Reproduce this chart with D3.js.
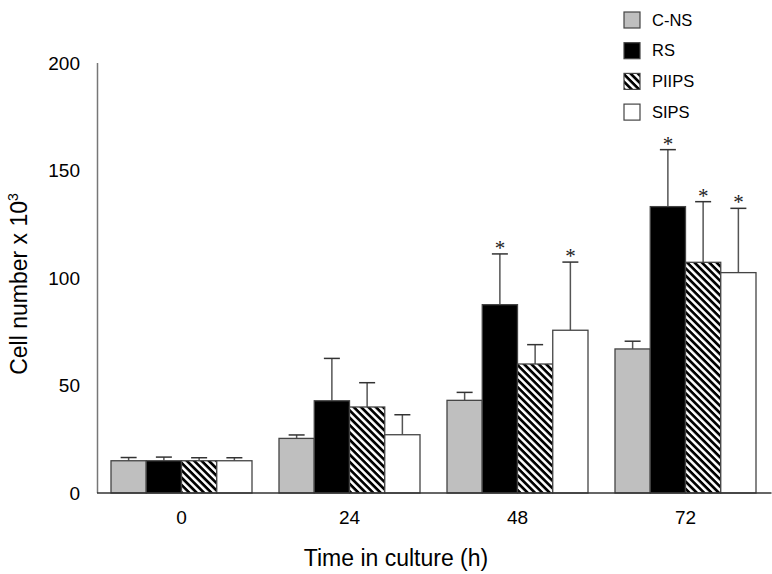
<!DOCTYPE html>
<html><head><meta charset="utf-8">
<script src="https://cdn.jsdelivr.net/npm/d3@7"></script>
<style>body{margin:0;background:#fff;} svg{display:block;font-family:"Liberation Sans",Arial,sans-serif;}</style>
</head><body>
<svg id="chart" width="772" height="574"></svg>
<script>
const timepoints = ["0", "24", "48", "72"];
const seriesNames = ["C-NS", "RS", "PIIPS", "SIPS"];
const cnsValues   = [15, 25.4, 43.1, 67];
const rsValues    = [15, 42.9, 87.6, 133.2];
const piipsValues = [15, 40, 60, 107.3];
const sipsValues  = [15, 27.1, 75.7, 102.5];
const cnsErr   = [1.5, 1.6, 3.7, 3.6];
const rsErr    = [1.7, 19.7, 23.6, 26.5];
const piipsErr = [1.4, 11.3, 9.0, 28.2];
const sipsErr  = [1.4, 9.3, 31.7, 29.9];
const significant = [[false,false,false,false],[false,false,true,true],[false,false,false,true],[false,false,true,true]];
const yTicks = [0, 50, 100, 150, 200];

const values = [cnsValues, rsValues, piipsValues, sipsValues];
const errors = [cnsErr, rsErr, piipsErr, sipsErr];

const svg = d3.select("#chart");
const defs = svg.append("defs");
const pat = defs.append("pattern").attr("id","hatch").attr("patternUnits","userSpaceOnUse")
  .attr("width",5.2).attr("height",5.2).attr("patternTransform","rotate(45)");
pat.append("rect").attr("width",5.2).attr("height",5.2).attr("fill","#fff");
pat.append("rect").attr("x",0).attr("y",0).attr("width",5.2).attr("height",2.7).attr("fill","#000");

const fills = ["#bfbfbf", "#000000", "url(#hatch)", "#ffffff"];

const x0 = d3.scaleBand().domain(timepoints).range([97.5, 769.5]).paddingInner(27/168).paddingOuter(27/336);
const x1 = d3.scaleBand().domain(seriesNames).range([0, x0.bandwidth()]).padding(0);
const y = d3.scaleLinear().domain([0, 200]).range([493, 63]);

const data = [];
timepoints.forEach((t, i) => seriesNames.forEach((s, j) => data.push({t, s, j, v: values[j][i], e: errors[j][i], sig: significant[j][i]})));

const g = svg.append("g");
g.selectAll(".err").data(data).join("g").each(function(d){
  const cx = x0(d.t) + x1(d.s) + x1.bandwidth()/2;
  const sel = d3.select(this);
  sel.append("line").attr("x1",cx).attr("x2",cx).attr("y1",y(d.v)).attr("y2",y(d.v+d.e)).attr("stroke","#555").attr("stroke-width",1.5);
  sel.append("line").attr("x1",cx-8).attr("x2",cx+8).attr("y1",y(d.v+d.e)).attr("y2",y(d.v+d.e)).attr("stroke","#333").attr("stroke-width",1.5);
  if (d.sig) sel.append("text").attr("x",cx).attr("y",y(d.v+d.e)+1).attr("text-anchor","middle")
    .attr("font-size",21).attr("fill","#222").attr("font-family","'Liberation Serif',serif").text("*");
});
g.selectAll(".bar").data(data).join("rect")
  .attr("x", d => x0(d.t) + x1(d.s))
  .attr("y", d => y(d.v))
  .attr("width", x1.bandwidth())
  .attr("height", d => y(0) - y(d.v))
  .attr("fill", d => fills[d.j])
  .attr("stroke", "#444").attr("stroke-width", 1.3);

svg.append("line").attr("x1",97.5).attr("x2",97.5).attr("y1",y(200)).attr("y2",y(0)).attr("stroke","#777").attr("stroke-width",1.5);
svg.append("line").attr("x1",97).attr("x2",771.5).attr("y1",y(0)).attr("y2",y(0)).attr("stroke","#333").attr("stroke-width",1.5);

svg.selectAll(".ytl").data(yTicks).join("text")
  .attr("x", 80).attr("y", d => y(d)).attr("dy","0.35em").attr("text-anchor","end")
  .attr("font-size",19).attr("fill","#000").text(d => d);

svg.selectAll(".xtl").data(timepoints).join("text")
  .attr("x", d => x0(d) + x0.bandwidth()/2).attr("y", 517).attr("dy","0.35em").attr("text-anchor","middle")
  .attr("font-size",19).attr("fill","#000").text(d => d);

svg.append("text").attr("x",396).attr("y",566).attr("text-anchor","middle").attr("font-size",23).text("Time in culture (h)");
const yt = svg.append("text").attr("transform","translate(27,284) rotate(-90)").attr("text-anchor","middle").attr("font-size",23);
yt.append("tspan").text("Cell number x 10");
yt.append("tspan").attr("font-size",14).attr("dy",-9).text("3");

const leg = svg.append("g");
seriesNames.forEach((s, j) => {
  const yy = 12 + j*30.7;
  leg.append("rect").attr("x",624).attr("y",yy).attr("width",16).attr("height",16)
    .attr("fill",fills[j]).attr("stroke","#444").attr("stroke-width",1.2);
  leg.append("text").attr("x",652).attr("y",yy+8).attr("dy","0.35em").attr("font-size",16.5).text(s);
});
</script>
</body></html>
